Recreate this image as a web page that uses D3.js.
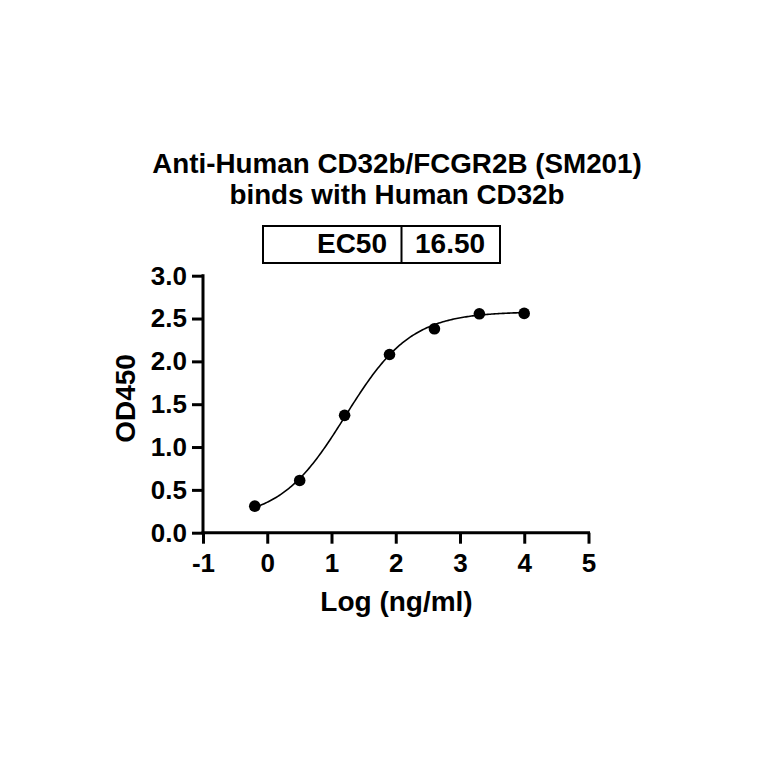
<!DOCTYPE html>
<html>
<head>
<meta charset="utf-8">
<script src="https://cdn.jsdelivr.net/npm/d3@7"></script>
<style>
  html, body { margin: 0; padding: 0; background: #fff; }
  svg { display: block; font-family: "Liberation Sans", Arial, sans-serif; font-weight: bold; }
</style>
</head>
<body>
<script>
// Data
const logConc = [-0.194, 0.505, 1.204, 1.903, 2.602, 3.301, 3.999];
const od450 = [0.31, 0.61, 1.37, 2.08, 2.38, 2.555, 2.56];

// 4PL fit shown as the curve
const fitBottom = 0.15;
const fitTop = 2.58;
const ec50 = 16.50;
const hillSlope = 0.85;

const xTicks = [-1, 0, 1, 2, 3, 4, 5];
const yTicks = [0, 0.5, 1, 1.5, 2, 2.5, 3];

const titleLines = ["Anti-Human CD32b/FCGR2B (SM201)", "binds with Human CD32b"];

const width = 764;
const height = 764;

const x = d3.scaleLinear([-1, 5], [203, 588.5]);
const y = d3.scaleLinear([0, 3], [532.7, 275.7]);

const svg = d3.select("body").append("svg")
    .attr("width", width)
    .attr("height", height)
    .attr("viewBox", [0, 0, width, height]);

// Title
svg.append("g")
    .attr("text-anchor", "middle")
    .style("font-size", "27.8px")
    .selectAll("text")
    .data(titleLines)
    .join("text")
    .attr("x", 397)
    .attr("y", (d, i) => 173 + i * 31)
    .text(d => d);

// EC50 table
const box = svg.append("g");
box.append("rect")
    .attr("x", 263).attr("y", 226)
    .attr("width", 237).attr("height", 37)
    .attr("fill", "none").attr("stroke", "#000").attr("stroke-width", 2);
box.append("line")
    .attr("x1", 401.5).attr("x2", 401.5)
    .attr("y1", 226).attr("y2", 263)
    .attr("stroke", "#000").attr("stroke-width", 2);
box.append("text")
    .attr("x", 387).attr("y", 252.5)
    .attr("text-anchor", "end")
    .style("font-size", "28px")
    .text("EC50");
box.append("text")
    .attr("x", 415).attr("y", 252.5)
    .style("font-size", "28px")
    .text(d3.format(".2f")(ec50));

// Axes
const yAxis = svg.append("g")
    .attr("transform", `translate(${x(-1)},0)`)
    .call(d3.axisLeft(y).tickValues(yTicks).tickFormat(d3.format(".1f"))
        .tickSize(11).tickSizeOuter(0).tickPadding(5));

const xAxis = svg.append("g")
    .attr("transform", `translate(0,${y(0)})`)
    .call(d3.axisBottom(x).tickValues(xTicks).tickFormat(d3.format("d"))
        .tickSize(11).tickSizeOuter(0).tickPadding(10));

[xAxis, yAxis].forEach(g => {
    g.attr("font-family", null).attr("font-size", null);
    g.selectAll("path, line").attr("stroke", "#000").attr("stroke-width", 3);
    g.selectAll("text").attr("fill", "#000").style("font-size", "26px");
});
xAxis.select(".domain").attr("d", `M${x(-1) - 1.5},0H${x(5) + 1.5}`);
yAxis.select(".domain").attr("d", `M0,${y(3) - 1.5}V${y(0)}`);
xAxis.selectAll(".tick text").text(d => d < 0 ? "-" + Math.abs(d) : d);

// Axis titles
svg.append("text")
    .attr("x", 396.5).attr("y", 611)
    .attr("text-anchor", "middle")
    .style("font-size", "28px")
    .text("Log (ng/ml)");
svg.append("text")
    .attr("transform", `translate(135,${398.5}) rotate(-90)`)
    .attr("text-anchor", "middle")
    .style("font-size", "28px")
    .text("OD450");

// Fitted curve
const logEc50 = Math.log10(ec50);
const fit = v => fitBottom + (fitTop - fitBottom) / (1 + Math.pow(10, (logEc50 - v) * hillSlope));
const xs = d3.range(200).map(i => d3.min(logConc) + (d3.max(logConc) - d3.min(logConc)) * i / 199);
svg.append("path")
    .datum(xs)
    .attr("fill", "none")
    .attr("stroke", "#000")
    .attr("stroke-width", 1.6)
    .attr("d", d3.line().x(d => x(d)).y(d => y(fit(d))));

// Points
svg.append("g")
    .selectAll("circle")
    .data(logConc.map((v, i) => ({x: v, y: od450[i]})))
    .join("circle")
    .attr("cx", d => x(d.x))
    .attr("cy", d => y(d.y))
    .attr("r", 5.8)
    .attr("fill", "#000");
</script>
</body>
</html>
